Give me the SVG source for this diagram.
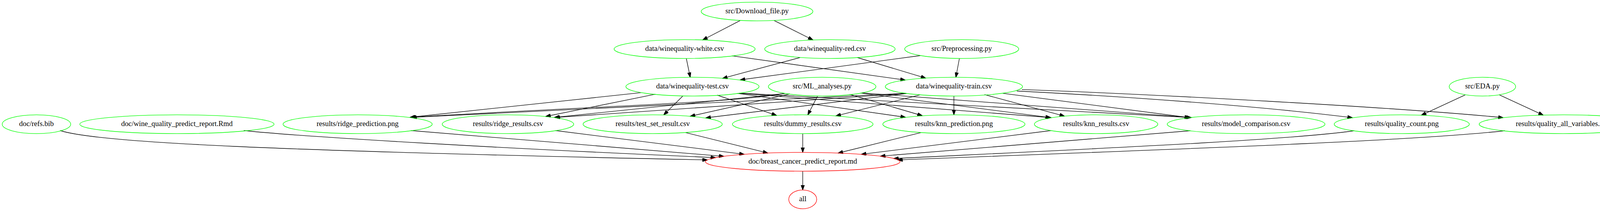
<svg xmlns="http://www.w3.org/2000/svg" width="4223" height="539" viewBox="0 0 4223 539">
<style>
.n ellipse{fill:none;stroke:#00ff00;stroke-width:1.33}
.n.r ellipse{stroke:#ff0000}
.n text{font-family:"Liberation Serif","Times New Roman",serif;font-size:18.67px;text-anchor:middle;fill:#000}
#edges path{fill:none;stroke:#000;stroke-width:1.33;marker-end:url(#arr)}
</style>
<defs>
<marker id="arr" viewBox="0 0 13.33 9.33" markerWidth="13.33" markerHeight="9.33" refX="12.6" refY="4.67" orient="auto" markerUnits="userSpaceOnUse">
<path d="M0,0 L13.33,4.67 L0,9.33 z" fill="#000" stroke="#000" stroke-width="1"/>
</marker>
</defs>
<rect width="4223" height="539" fill="#fff"/>
<g id="edges">
<path d="M1895,52.3 L1799,102"/>
<path d="M1981.6,52.3 L2081,102"/>
<path d="M1757,149.5 L1767,197.5"/>
<path d="M1874,142.7 L2317.5,204.5"/>
<path d="M2048,147 L1849.7,200.2"/>
<path d="M2194.7,147 L2370,199.6"/>
<path d="M2356,142 L1895,204"/>
<path d="M2456,149.5 L2447,197.5"/>
<path d="M1641.5,236.7 L1050,299.5"/>
<path d="M1677.7,240.7 L1397,297.5"/>
<path d="M1748,245.3 L1699,293.6"/>
<path d="M1836,243 L1988,294.8"/>
<path d="M1887,238.3 L2318,299.5"/>
<path d="M1891,238.2 L2691,300.5"/>
<path d="M1895,238 L3050,300.3"/>
<path d="M2007,238.3 C1900,262 1500,272 1052,299.5"/>
<path d="M2009,239 L1419,300"/>
<path d="M2021.7,240 L1767,297"/>
<path d="M2092.7,245.7 L2068,293.4"/>
<path d="M2175,241 L2361,295.5"/>
<path d="M2203,237.7 L2689,300.3"/>
<path d="M2206,237.2 L3048,300.2"/>
<path d="M2320,238.3 L1054,299.8"/>
<path d="M2320,238.6 L1421,300.2"/>
<path d="M2321,238.8 L1807,301"/>
<path d="M2355,242.4 L2140,296.1"/>
<path d="M2442,245.3 L2442,293.3"/>
<path d="M2520.5,241.7 L2725,296.6"/>
<path d="M2567,238.3 L3045,300.5"/>
<path d="M2603,232.5 C2850,245 3200,268 3462,300.6"/>
<path d="M2616,228.6 C2950,241 3550,272 3848,300.5"/>
<path d="M3751,242.4 L3638.6,294.4"/>
<path d="M3838.5,242.4 L3950.8,294.2"/>
<path d="M154,333.5 C250,365 700,385 1811,408.6"/>
<path d="M624,333.5 C780,350 1300,380 1832,402.6"/>
<path d="M1052,333.5 L1853,399.3"/>
<path d="M1421.8,333.5 L1905,394.1"/>
<path d="M1755,338.6 L1965.5,390.9"/>
<path d="M2055,341.3 L2055,389.3"/>
<path d="M2358,338.6 L2145.6,391"/>
<path d="M2691,333.5 L2205,394.2"/>
<path d="M3047,334 L2254,398.9"/>
<path d="M3466.7,334 C3300,358 2800,380 2288,405"/>
<path d="M3852.6,334 C3600,362 2900,385 2298,408.5"/>
<path d="M2055,437.3 L2055,485.3"/>
</g>
<g id="nodes">
<g id="n_download" class="n"><ellipse cx="1938" cy="29.3" rx="143" ry="24"/><text x="1938" y="34.3">src/Download_file.py</text></g>
<g id="n_white" class="n"><ellipse cx="1752.6" cy="125.3" rx="180.6" ry="24"/><text x="1752.6" y="130.3">data/winequality-white.csv</text></g>
<g id="n_red" class="n"><ellipse cx="2124.6" cy="125.3" rx="167" ry="24"/><text x="2124.6" y="130.3">data/winequality-red.csv</text></g>
<g id="n_prep" class="n"><ellipse cx="2462" cy="125.3" rx="146" ry="24"/><text x="2462" y="130.3">src/Preprocessing.py</text></g>
<g id="n_test" class="n"><ellipse cx="1772.7" cy="221.3" rx="170.5" ry="24"/><text x="1772.7" y="226.3">data/winequality-test.csv</text></g>
<g id="n_ml" class="n"><ellipse cx="2104.7" cy="221.3" rx="137.7" ry="24"/><text x="2104.7" y="226.3">src/ML_analyses.py</text></g>
<g id="n_train" class="n"><ellipse cx="2442" cy="221.3" rx="175.7" ry="24"/><text x="2442" y="226.3">data/winequality-train.csv</text></g>
<g id="n_eda" class="n"><ellipse cx="3795" cy="221.3" rx="85" ry="24"/><text x="3795" y="226.3">src/EDA.py</text></g>
<g id="n_refs" class="n"><ellipse cx="93.3" cy="317.3" rx="87.7" ry="24"/><text x="93.3" y="322.3">doc/refs.bib</text></g>
<g id="n_rmd" class="n"><ellipse cx="452.9" cy="317.3" rx="248.7" ry="24"/><text x="452.9" y="322.3">doc/wine_quality_predict_report.Rmd</text></g>
<g id="n_ridgep" class="n"><ellipse cx="915.5" cy="317.3" rx="191" ry="24"/><text x="915.5" y="322.3">results/ridge_prediction.png</text></g>
<g id="n_ridger" class="n"><ellipse cx="1300.4" cy="317.3" rx="168.4" ry="24"/><text x="1300.4" y="322.3">results/ridge_results.csv</text></g>
<g id="n_testset" class="n"><ellipse cx="1670.8" cy="317.3" rx="178.2" ry="24"/><text x="1670.8" y="322.3">results/test_set_result.csv</text></g>
<g id="n_dummy" class="n"><ellipse cx="2055" cy="317.3" rx="180" ry="24"/><text x="2055" y="322.3">results/dummy_results.csv</text></g>
<g id="n_knnp" class="n"><ellipse cx="2442" cy="317.3" rx="182" ry="24"/><text x="2442" y="322.3">results/knn_prediction.png</text></g>
<g id="n_knnr" class="n"><ellipse cx="2806" cy="317.3" rx="158" ry="24"/><text x="2806" y="322.3">results/knn_results.csv</text></g>
<g id="n_modelc" class="n"><ellipse cx="3190" cy="317.3" rx="202" ry="24"/><text x="3190" y="322.3">results/model_comparison.csv</text></g>
<g id="n_qcount" class="n"><ellipse cx="3588.5" cy="317.3" rx="173" ry="24"/><text x="3588.5" y="322.3">results/quality_count.png</text></g>
<g id="n_qall" class="n"><ellipse cx="4002" cy="317.3" rx="215.4" ry="24"/><text x="4002" y="322.3">results/quality_all_variables.png</text></g>
<g id="n_report" class="n r"><ellipse cx="2055" cy="413.3" rx="249" ry="24"/><text x="2055" y="418.3">doc/breast_cancer_predict_report.md</text></g>
<g id="n_all" class="n r"><ellipse cx="2055" cy="509.3" rx="35.8" ry="24"/><text x="2055" y="514.3">all</text></g>
</g>
</svg>
